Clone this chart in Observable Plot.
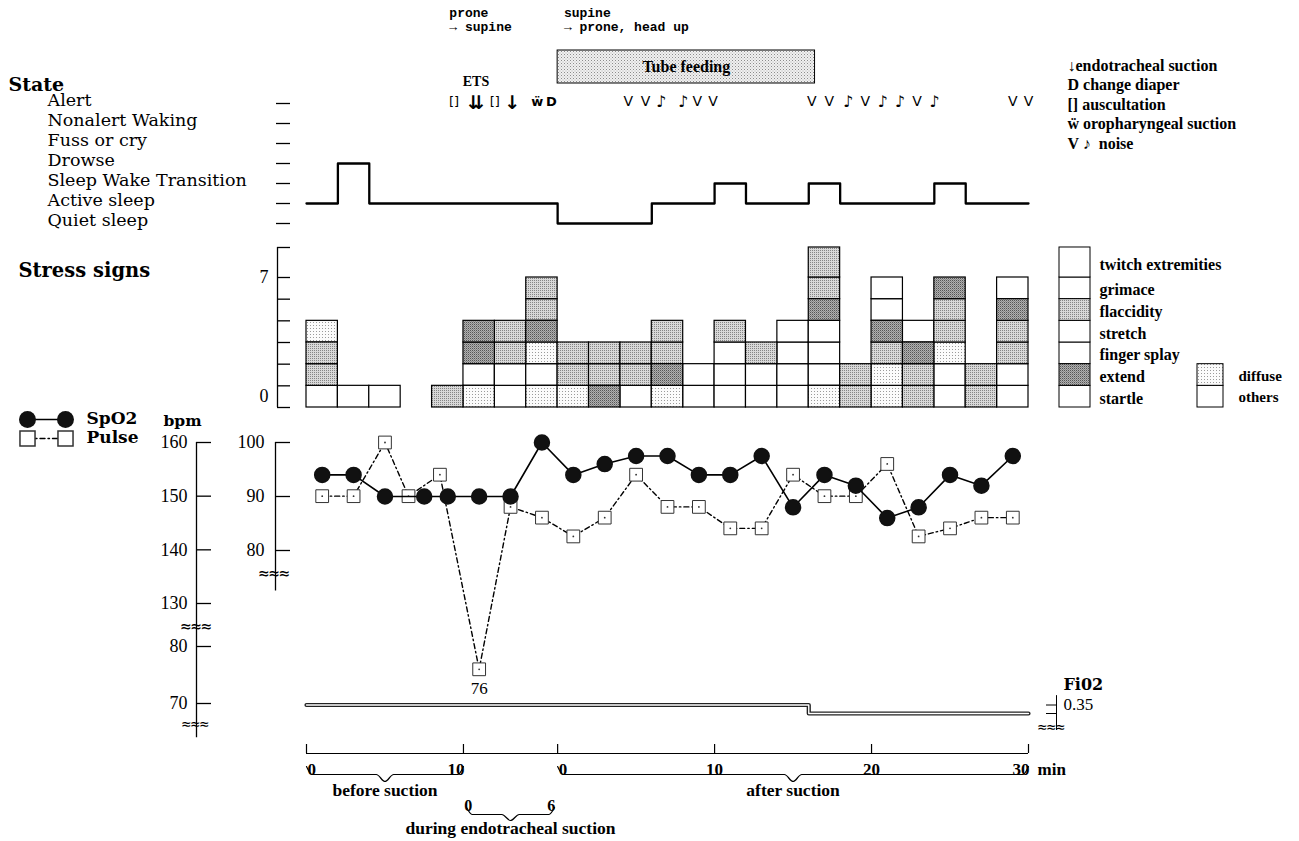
<!DOCTYPE html>
<html>
<head>
<meta charset="utf-8">
<script src="https://cdn.jsdelivr.net/npm/d3@7"></script>
<script src="https://cdn.jsdelivr.net/npm/@observablehq/plot@0.6"></script>
<style>
html,body{margin:0;padding:0;background:#fff;}
#chart{position:relative;width:1299px;height:841px;overflow:hidden;background:#fff;}
#chart svg{position:absolute;left:0;top:0;}
</style>
</head>
<body>
<svg width="0" height="0" style="position:absolute">
  <defs>
    <pattern id="pDiffuse" width="3" height="3" patternUnits="userSpaceOnUse"><rect width="3" height="3" fill="#fbfbfb"/><rect x="1" y="1" width="1" height="1" fill="#9a9a9a"/></pattern>
    <pattern id="pFlacc" width="2" height="2" patternUnits="userSpaceOnUse"><rect width="2" height="2" fill="#d8d8d8"/><rect width="1" height="1" fill="#858585"/></pattern>
    <pattern id="pExtend" width="2" height="2" patternUnits="userSpaceOnUse"><rect width="2" height="2" fill="#b0b0b0"/><rect width="1" height="1" fill="#555"/><rect x="1" y="1" width="1" height="1" fill="#888"/></pattern>
    <pattern id="pTube" width="3" height="3" patternUnits="userSpaceOnUse"><rect width="3" height="3" fill="#f0f0f0"/><rect width="1" height="1" fill="#8c8c8c"/><rect x="1.5" y="1.5" width="1" height="1" fill="#b0b0b0"/></pattern>
  </defs>
</svg>
<div id="chart"></div>
<script>
// ======================= DATA =======================
// behavioural state, bottom-up order of the ordinal scale
const stateLevels = ["Quiet sleep", "Active sleep", "Sleep Wake Transition", "Drowse", "Fuss or cry", "Nonalert Waking", "Alert"];
// state in each 2-minute period (23 periods: 10 min before, 6 min during, 30 min after suction)
const stateByPeriod = ["Active sleep", "Drowse", "Active sleep", "Active sleep", "Active sleep", "Active sleep", "Active sleep", "Active sleep",
  "Quiet sleep", "Quiet sleep", "Quiet sleep", "Active sleep", "Active sleep", "Sleep Wake Transition", "Active sleep", "Active sleep",
  "Sleep Wake Transition", "Active sleep", "Active sleep", "Active sleep", "Sleep Wake Transition", "Active sleep", "Active sleep"];
const periodMinutes = 2;
const totalMinutes = 46;

// stress-sign boxes per period, bottom-up: o = others, d = diffuse, f = flaccidity, e = extend
const stressStacks = ["offd", "o", "o", "", "f", "doee", "ooff", "dodeff", "dff", "eff", "off", "deff", "oo", "ooof", "oof", "oooo",
  "doooeff", "ff", "ddfeoo", "ffeo", "oodffe", "ff", "ooffeo"];
const stressSigns = ["startle", "extend", "finger splay", "stretch", "flaccidity", "grimace", "twitch extremities"]; // bottom-up
const stressSignKind = ["o", "e", "o", "o", "f", "o", "o"];
const spreadLabels = ["others", "diffuse"];
const spreadKind = ["o", "d"];
const stressTickLabels = ["0", "7"];

// SpO2 (%) and pulse (bpm)
const spo2Minutes = [1, 3, 5, 7.5, 9, 11, 13, 15, 17, 19, 21, 23, 25, 27, 29, 31, 33, 35, 37, 39, 41, 43, 45];
const spo2Values = [94, 94, 90, 90, 90, 90, 90, 100, 94, 96, 97.5, 97.5, 94, 94, 97.5, 88, 94, 92, 86, 88, 94, 92, 97.5];
const pulseMinutes = [1, 3, 5, 6.5, 8.5, 11, 13, 15, 17, 19, 21, 23, 25, 27, 29, 31, 33, 35, 37, 39, 41, 43, 45];
const pulseValues = [150, 150, 160, 150, 154, 76, 148, 146, 142.5, 146, 154, 148, 148, 144, 144, 154, 150, 150, 156, 142.5, 144, 146, 146];
const bpmTicks = [70, 80, 130, 140, 150, 160];
const spo2Ticks = [80, 90, 100];

// FiO2
const fio2Minutes = [0, 32, 46];
const fio2Values = [0.35, 0.33, 0.33];
const fio2Ticks = [0.35, 0.33];

// time axis
const timeTicks = [0, 10, 16, 26, 36, 46];
const timeTickLabels = ["0", "10", "0", "10", "20", "30"];
const timeTickAlign = ["start", "end", "start", "middle", "middle", "end"];
const phaseNames = ["before suction", "during endotracheal suction", "after suction"];
const phaseStart = [0, 10, 16];
const phaseEnd = [10, 16, 46];
const duringLabels = ["0", "6"];

// events
const eventMinutes = [9.4, 10.8, 12.0, 13.1, 14.7, 15.6, 20.5, 21.6, 22.6, 24.0, 24.9, 25.9, 32.2, 33.3, 34.5, 35.6, 36.7, 37.8, 38.9, 40.0, 45.0, 46.0];
const eventSymbols = ["[]", "⇊", "[]", "↓", "ẅ", "D", "V", "V", "♪", "♪", "V", "V", "V", "V", "♪", "V", "♪", "♪", "V", "♪", "V", "V"];
const positionMinutes = [9.1, 16.4];
const positionFrom = ["prone", "supine"];
const positionTo = ["→ supine", "→ prone, head up"];
const feedingStart = 16, feedingEnd = 32.4;
const eventLegend = ["↓endotracheal suction", "D change diaper", "[] auscultation", "ẅ oropharyngeal suction", "V ♪  noise"];

// ======================= RENDER =======================
const chart = document.getElementById("chart");
const W = 1299, H = 841;
const SERIF = "'Liberation Serif','DejaVu Serif',serif";
const WIDE_SERIF = "'DejaVu Serif','Liberation Serif',serif";
const MONO = "'Liberation Mono','DejaVu Sans Mono',monospace";
const SANS = "'DejaVu Sans',sans-serif";
const TIME_RANGE = [306, 1028];
const timeX = {domain: [0, totalMinutes], range: TIME_RANGE, axis: null};
const px2t = px => (px - TIME_RANGE[0]) / (TIME_RANGE[1] - TIME_RANGE[0]) * totalMinutes;
const identity = {type: "identity", axis: null};
const FILL = {o: "white", d: "url(#pDiffuse)", f: "url(#pFlacc)", e: "url(#pExtend)"};

function layer(y, marks, x = timeX) {
  const svg = Plot.plot({
    width: W, height: H, margin: 0,
    x, y: {...y, axis: null},
    marks,
    style: {background: "none", fontFamily: SERIF, color: "black", overflow: "visible"}
  });
  chart.appendChild(svg);
  return svg;
}

// ---- State panel ----
const stateRows = stateByPeriod.map((s, i) => ({t: i * periodMinutes, state: s}));
stateRows.push({t: totalMinutes, state: stateByPeriod[stateByPeriod.length - 1]});
layer({type: "point", domain: stateLevels, range: [223, 103], padding: 0}, [
  Plot.ruleX([px2t(276)], {y1: stateLevels[0], y2: stateLevels[stateLevels.length - 1], strokeWidth: 1.3}),
  Plot.ruleY(stateLevels, {y: d => d, x1: px2t(276), x2: px2t(290), strokeWidth: 1.3}),
  Plot.text(stateLevels, {y: d => d, x: px2t(47), dy: -3, text: d => d, textAnchor: "start", fontSize: 17.5, fontFamily: WIDE_SERIF}),
  Plot.line(stateRows, {x: "t", y: "state", curve: "step-after", strokeWidth: 2.3})
]);

// ---- Stress panel (top box drawn taller, as in the original) ----
const cells = [];
stressStacks.forEach((stack, i) => [...stack].forEach((k, j) => cells.push({x1: i * periodMinutes, x2: (i + 1) * periodMinutes, y1: j, y2: j + 1, kind: k})));
const signRows = stressSigns.map((s, j) => ({sign: s, j, kind: stressSignKind[j]}));
const spreadRows = spreadLabels.map((s, j) => ({label: s, j, kind: spreadKind[j]}));
const stressLevels = d3.range(0, stressSigns.length + 1);
const stressBreak = d3.scaleLinear().domain([0, 6, 7]).range([0, 6, 7.385]);
layer({domain: [0, 6], range: [407, 277], transform: stressBreak}, [
  ...Object.keys(FILL).map(k => Plot.rect(cells, {filter: d => d.kind === k, x1: "x1", x2: "x2", y1: "y1", y2: "y2", fill: FILL[k], stroke: "black", strokeWidth: 1.2})),
  Plot.ruleX([px2t(277)], {y1: 0, y2: 7, strokeWidth: 1.3}),
  Plot.ruleY(stressLevels, {y: d => d, x1: px2t(277), x2: px2t(290), strokeWidth: 1.3}),
  Plot.text(stressTickLabels, {x: px2t(268), y: (d, i) => (i === 0 ? 0.5 : 6), text: d => d, textAnchor: "end", fontSize: 18}),
  // legend of signs
  ...Object.keys(FILL).map(k => Plot.rect(signRows, {filter: d => d.kind === k, x1: px2t(1059), x2: px2t(1090), y1: "j", y2: d => d.j + 1, fill: FILL[k], stroke: "black", strokeWidth: 1})),
  Plot.text(signRows, {x: px2t(1099), y: d => d.j + 0.5, dy: 2, text: "sign", textAnchor: "start", fontSize: 16, fontWeight: "bold"}),
  ...Object.keys(FILL).map(k => Plot.rect(spreadRows, {filter: d => d.kind === k, x1: px2t(1197), x2: px2t(1223), y1: "j", y2: d => d.j + 1, fill: FILL[k], stroke: "black", strokeWidth: 1})),
  Plot.text(spreadRows, {x: px2t(1238), y: d => d.j + 0.5, dy: 1, text: "label", textAnchor: "start", fontSize: 15, fontWeight: "bold"})
]);

// ---- Pulse (bpm, broken axis 80 / 130) ----
const pulse = pulseMinutes.map((t, i) => ({t, v: pulseValues[i]}));
const bpmBreak = d3.scaleLinear().domain([70, 80, 130, 160]).range([0, 57, 100, 261]);
layer({domain: [0, 261], range: [703, 442], transform: bpmBreak}, [
  Plot.ruleX([px2t(196)], {y1: 64, y2: 160, strokeWidth: 1.3}),
  Plot.ruleY(bpmTicks, {y: d => d, x1: px2t(196), x2: px2t(211), strokeWidth: 1.3}),
  Plot.text(bpmTicks, {x: px2t(187), y: d => d, text: d => d, textAnchor: "end", fontSize: 18}),
  Plot.line(pulse, {x: "t", y: "v", stroke: "black", strokeWidth: 1.4, strokeDasharray: "5,3,1.5,3"}),
  Plot.dot(pulse, {x: "t", y: "v", symbol: "square", r: 7.2, fill: "white", stroke: "#333", strokeWidth: 1}),
  Plot.dot(pulse, {x: "t", y: "v", r: 0.9, fill: "#333"}),
  Plot.text(pulse, Plot.selectMinY({x: "t", y: "v", text: d => d.v, dy: 19, fontSize: 17}))
]);

// ---- SpO2 (%) ----
const spo2 = spo2Minutes.map((t, i) => ({t, v: spo2Values[i]}));
layer({domain: [80, 100], range: [550, 442]}, [
  Plot.ruleX([px2t(275)], {y1: 72.5, y2: 100, strokeWidth: 1.3}),
  Plot.ruleY(spo2Ticks, {y: d => d, x1: px2t(275), x2: px2t(290), strokeWidth: 1.3}),
  Plot.text(spo2Ticks, {x: px2t(264), y: d => d, text: d => d, textAnchor: "end", fontSize: 18}),
  Plot.line(spo2, {x: "t", y: "v", stroke: "black", strokeWidth: 1.6}),
  Plot.dot(spo2, {x: "t", y: "v", r: 7.5, fill: "#111", stroke: "#111"})
]);

// ---- FiO2 ----
const fio2 = fio2Minutes.map((t, i) => ({t, v: fio2Values[i]}));
layer({domain: [0.33, 0.35], range: [713, 704.5]}, [
  Plot.line(fio2, {x: "t", y: "v", curve: "step-after", stroke: "#222", strokeWidth: 4.2}),
  Plot.line(fio2, {x: "t", y: "v", curve: "step-after", stroke: "white", strokeWidth: 1.4}),
  Plot.ruleX([px2t(1056)], {y1: 0.29, y2: 0.372, strokeWidth: 1}),
  Plot.ruleY(fio2Ticks, {y: d => d, x1: px2t(1046), x2: px2t(1056), strokeWidth: 1}),
  Plot.text([fio2Ticks[0]], {x: px2t(1063), y: d => d, text: d => d.toFixed(2), textAnchor: "start", fontSize: 17})
]);

// ---- Top: events, feeding, position changes ----
const events = eventMinutes.map((t, i) => ({t, s: eventSymbols[i]}));
const positions = positionMinutes.map((t, i) => ({t, from: positionFrom[i], to: positionTo[i]}));
const feeding = [{a: feedingStart, b: feedingEnd, label: "Tube feeding"}];
layer(identity, [
  Plot.text(positions, {x: "t", y: 12, text: "from", textAnchor: "start", fontSize: 13, fontWeight: "bold", fontFamily: MONO}),
  Plot.text(positions, {x: "t", y: 26, text: "to", textAnchor: "start", fontSize: 13, fontWeight: "bold", fontFamily: MONO}),
  Plot.rect(feeding, {x1: "a", x2: "b", y1: 50, y2: 83, fill: "url(#pTube)", stroke: "black", strokeWidth: 1}),
  Plot.text(feeding, {x: d => (d.a + d.b) / 2, y: 66, text: "label", fontSize: 16, fontWeight: "bold"}),
  Plot.text(events, {filter: d => d.s === "⇊", x: "t", y: 81.5, text: () => "ETS", fontSize: 14, fontWeight: "bold"}),
  Plot.text(events, {filter: d => d.s === "V", x: "t", y: 101, text: "s", fontSize: 14, fontFamily: SANS}),
  Plot.text(events, {filter: d => d.s === "♪", x: "t", y: 101, text: "s", fontSize: 16, fontFamily: SANS}),
  Plot.text(events, {filter: d => d.s === "⇊" || d.s === "↓", x: "t", y: 102, text: "s", fontSize: 19, fontWeight: "bold", fontFamily: SANS}),
  Plot.text(events, {filter: d => d.s === "[]", x: "t", y: 101, text: "s", fontSize: 13, fontFamily: SANS}),
  Plot.text(events, {filter: d => d.s === "ẅ" || d.s === "D", x: "t", y: 101, text: "s", fontSize: 13, fontWeight: "bold", fontFamily: SANS})
]);

// ---- Bottom: time axis and phase braces ----
const ticks = timeTicks.map((t, i) => ({t, label: timeTickLabels[i], align: timeTickAlign[i]}));
function brace(t0, t1, yTop, yLine, yTip) {
  const m = (t0 + t1) / 2;
  return [{x: t0, y: yTop}, {x: t0 + 0.35, y: yLine}, {x: m - 0.55, y: yLine}, {x: m, y: yTip}, {x: m + 0.55, y: yLine}, {x: t1 - 0.35, y: yLine}, {x: t1, y: yTop}];
}
const phases = phaseNames.map((name, i) => ({name, t0: phaseStart[i], t1: phaseEnd[i], during: name.startsWith("during")}));
const braceMarks = phases.map(p => Plot.line(p.during ? brace(p.t0 + 0.2, p.t1 - 0.2, 807, 814, 820) : brace(p.t0, p.t1, 766, 774, 781),
  {x: "x", y: "y", curve: "monotone-x", strokeWidth: 1.2}));
const duringPhase = phases.find(p => p.during);
layer(identity, [
  Plot.ruleY([753], {x1: 0, x2: totalMinutes, strokeWidth: 1.2}),
  Plot.ruleX(ticks, {x: "t", y1: 744, y2: 753, strokeWidth: 1.2}),
  ...["start", "middle", "end"].map(a => Plot.text(ticks, {filter: d => d.align === a, x: "t", y: 769, text: "label", textAnchor: a,
    dx: a === "start" ? 1 : a === "end" ? 1 : 0, fontSize: 17, fontWeight: "bold"})),
  Plot.text([ticks[ticks.length - 1]], {x: "t", y: 769, text: () => "min", textAnchor: "start", fontSize: 17, fontWeight: "bold", dx: 9}),
  ...braceMarks,
  Plot.text(phases, {filter: d => !d.during, x: d => (d.t0 + d.t1) / 2, y: 790, text: "name", fontSize: 17.5, fontWeight: "bold"}),
  Plot.text(phases, {filter: d => d.during, x: d => (d.t0 + d.t1) / 2, y: 828, text: "name", fontSize: 17.5, fontWeight: "bold"}),
  Plot.text([duringPhase.t0 + 0.3, duringPhase.t1 - 0.4], {x: d => d, y: 805, text: (d, i) => duringLabels[i], fontSize: 16, fontWeight: "bold"})
]);

// ---- Titles, legends, axis breaks (pixel layout) ----
const breaks = [[180, 626, 17], [181, 724, 15], [258, 573.5, 17], [1037, 727, 15]];
const titles = [
  {x: 8, y: 84, t: "State", s: 19},
  {x: 18, y: 270, t: "Stress signs", s: 19.5},
  {x: 86, y: 418, t: "SpO2", s: 17},
  {x: 86, y: 437.5, t: "Pulse", s: 17},
  {x: 163, y: 421, t: "bpm", s: 15.5},
  {x: 1063, y: 684, t: "Fi02", s: 16}
];
const legendLine = [{x: 27, y: 419}, {x: 65, y: 419}];
const legendSq = [{x: 27, y: 438}, {x: 65, y: 438}];
layer(identity, [
  Plot.text(titles, {x: "x", y: "y", text: "t", fontSize: d => d.s, fontWeight: "bold", textAnchor: "start", fontFamily: WIDE_SERIF}),
  Plot.text(eventLegend, {x: 1067, y: (d, i) => 65 + i * 19.5, text: d => d, textAnchor: "start", fontSize: 16, fontWeight: "bold"}),
  Plot.line(legendLine, {x: "x", y: "y", strokeWidth: 1.6}),
  Plot.dot(legendLine, {x: "x", y: "y", r: 8.5, fill: "#111"}),
  Plot.line(legendSq, {x: "x", y: "y", strokeWidth: 1.4, strokeDasharray: "5,3,1.5,3"}),
  Plot.dot(legendSq, {x: "x", y: "y", symbol: "square", r: 8.5, fill: "white", stroke: "#333"}),
  Plot.text(breaks, {x: d => d[0], y: d => d[1], text: () => "≈≈≈", textAnchor: "start", fontSize: d => d[2], fontFamily: "'DejaVu Sans Mono',monospace", letterSpacing: -1.5})
], identity);
</script>
</body>
</html>
